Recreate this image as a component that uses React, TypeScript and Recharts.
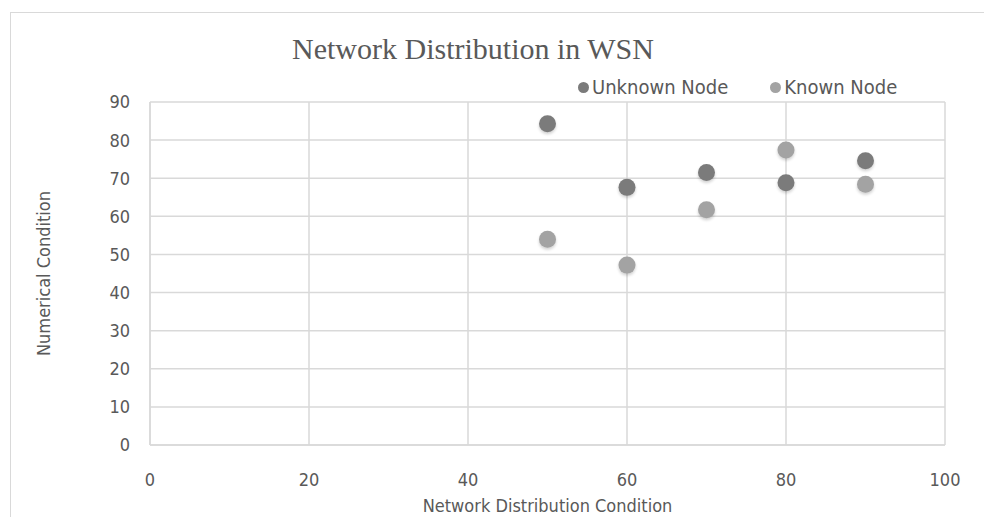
import { ScatterChart, Scatter, XAxis, YAxis, CartesianGrid } from 'recharts'

const distribution = [50, 60, 70, 80, 90]
const unknownNode = [84.3, 67.6, 71.5, 68.8, 74.6]
const knownNode = [54, 47.2, 61.7, 77.4, 68.4]
const xTicks = [0, 20, 40, 60, 80, 100]
const yTicks = [0, 10, 20, 30, 40, 50, 60, 70, 80, 90]

const unknownData = distribution.map((x, i) => ({ x, y: unknownNode[i] }))
const knownData = distribution.map((x, i) => ({ x, y: knownNode[i] }))

const textColor = '#595959'
const gridColor = '#d9d9d9'
const axisFont = '"DejaVu Sans Condensed", "DejaVu Sans", sans-serif'

const legendItems = [
  { name: 'Unknown Node', color: '#7b7b7b' },
  { name: 'Known Node', color: '#a3a3a3' },
]

function Dot(props: any) {
  const { cx, cy, fill } = props
  return (
    <g>
      <defs>
        <filter id="soft" x="-50%" y="-50%" width="200%" height="200%">
          <feGaussianBlur stdDeviation="1.6" />
        </filter>
      </defs>
      <circle cx={cx} cy={cy + 2} r={8.5} fill="#000" opacity={0.18} filter="url(#soft)" />
      <circle cx={cx} cy={cy} r={8.5} fill={fill} />
    </g>
  )
}

export default function App() {
  return (
    <div
      style={{
        position: 'absolute',
        left: 0,
        top: 0,
        width: 984,
        height: 517,
        overflow: 'hidden',
        background: '#fff',
      }}
    >
      <div
        style={{
          position: 'absolute',
          left: 10,
          top: 12,
          width: 1000,
          height: 600,
          border: `1px solid ${gridColor}`,
        }}
      />
      <div
        style={{
          position: 'absolute',
          left: 0,
          width: 946,
          top: 31,
          textAlign: 'center',
          fontFamily: '"Liberation Serif", "Times New Roman", serif',
          fontSize: 30,
          color: textColor,
          lineHeight: '36px',
        }}
      >
        Network Distribution in WSN
      </div>
      <div style={{ position: 'absolute', left: 0, top: 0 }}>
        <ScatterChart width={984} height={517} margin={{ top: 102, right: 39, bottom: 0, left: 0 }}>
          <CartesianGrid stroke={gridColor} strokeWidth={1.5} />
          <XAxis
            type="number"
            dataKey="x"
            domain={[0, 100]}
            ticks={xTicks}
            height={72}
            tickSize={0}
            tickMargin={28}
            axisLine={{ stroke: gridColor, strokeWidth: 1.5 }}
            tick={{ fill: textColor, fontSize: 18, fontFamily: axisFont }}
            label={{
              content: (p: any) => {
                const vb = p.viewBox
                return (
                  <text
                    x={vb.x + vb.width / 2}
                    y={vb.y + vb.height - 5}
                    textAnchor="middle"
                    fill={textColor}
                    fontSize={18}
                    fontFamily={axisFont}
                  >
                    Network Distribution Condition
                  </text>
                )
              },
            }}
          />
          <YAxis
            type="number"
            dataKey="y"
            domain={[0, 90]}
            ticks={yTicks}
            width={150}
            tickSize={0}
            tickMargin={20}
            axisLine={{ stroke: gridColor, strokeWidth: 1.5 }}
            tick={{ fill: textColor, fontSize: 18, fontFamily: axisFont }}
            label={{
              content: (p: any) => {
                const vb = p.viewBox
                const cx = 43
                const cy = vb.y + vb.height / 2
                return (
                  <text
                    x={cx}
                    y={cy}
                    textAnchor="middle"
                    dominantBaseline="central"
                    transform={`rotate(-90 ${cx} ${cy})`}
                    fill={textColor}
                    fontSize={18}
                    fontFamily={axisFont}
                  >
                    Numerical Condition
                  </text>
                )
              },
            }}
          />
          <Scatter name="Unknown Node" data={unknownData} fill="#7b7b7b" shape={Dot} isAnimationActive={false} />
          <Scatter name="Known Node" data={knownData} fill="#a3a3a3" shape={Dot} isAnimationActive={false} />
        </ScatterChart>
      </div>
      <div
        style={{
          position: 'absolute',
          top: 74,
          left: 578,
          display: 'flex',
          gap: 42,
          fontFamily: axisFont,
          fontSize: 20,
          color: textColor,
          lineHeight: '26px',
        }}
      >
        {legendItems.map((it) => (
          <div key={it.name} style={{ display: 'flex', alignItems: 'center' }}>
            <span
              style={{
                width: 11,
                height: 11,
                borderRadius: '50%',
                background: it.color,
                display: 'inline-block',
                marginRight: 3,
              }}
            />
            {it.name}
          </div>
        ))}
      </div>
    </div>
  )
}
